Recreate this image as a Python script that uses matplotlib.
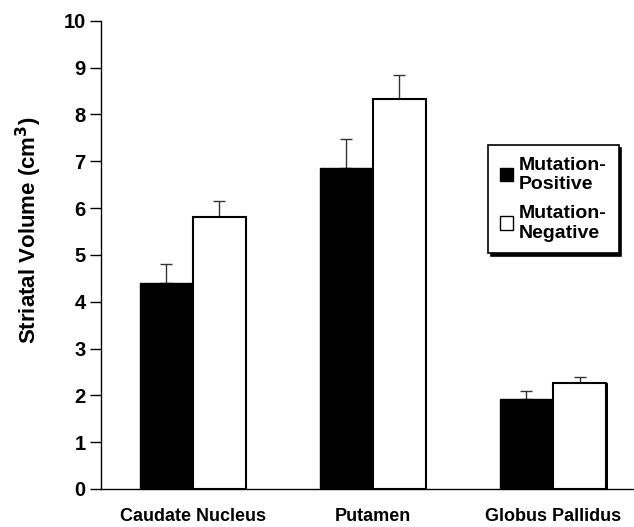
import numpy as np
import matplotlib
matplotlib.use('Agg')
import matplotlib.pyplot as plt
from matplotlib.patches import Patch

# Data
regions = ['Caudate Nucleus', 'Putamen', 'Globus Pallidus']
positive = [4.40, 6.86, 1.93]
positive_err = [0.40, 0.61, 0.16]
negative = [5.80, 8.32, 2.26]
negative_err = [0.35, 0.52, 0.14]

plt.rcParams['font.family'] = ['Liberation Sans', 'DejaVu Sans']
plt.rcParams['font.weight'] = 'bold'

fig = plt.figure(figsize=(6.34, 5.27), dpi=100)
ax = fig.add_axes([101/634, 1 - 489/527, 1 - 101/634, (489 - 20.7)/527])

x = np.arange(len(regions))
w = 0.295

# Positive bars (black)
ax.bar(x - w/2, positive, w, color='black', edgecolor='black', linewidth=1, zorder=2)
ax.errorbar(x - w/2, positive, yerr=[np.zeros(3), positive_err], fmt='none',
            ecolor='#333333', elinewidth=1, capsize=4, capthick=1, zorder=1)

# Negative bars (white with a drop shadow on the right)
ax.bar(x + w/2 + 0.008, negative, w, color='black', linewidth=0, zorder=2)
ax.bar(x + w/2, negative, w, color='white', edgecolor='black', linewidth=1.5, zorder=3)
ax.errorbar(x + w/2, negative, yerr=[np.zeros(3), negative_err], fmt='none',
            ecolor='#333333', elinewidth=1, capsize=4, capthick=1, zorder=1)

ax.set_xlim(-0.51, 2.45)
ax.set_ylim(0, 10)
ax.set_yticks(range(0, 11))
ax.set_xticks(x)
ax.set_xticklabels(regions, fontsize=13, fontweight='bold')
ax.tick_params(axis='x', length=0, pad=14)
ax.tick_params(axis='y', length=8, width=1, labelsize=14.5, direction='out', pad=3)
for lab in ax.get_yticklabels():
    lab.set_fontweight('bold')

ax.spines['top'].set_visible(False)
ax.spines['right'].set_visible(False)
ax.spines['left'].set_linewidth(1)
ax.spines['bottom'].set_linewidth(1)

ax.set_ylabel('Striatal Volume (cm$^{\\mathbf{3}}$)', fontsize=16, fontweight='bold', labelpad=14)
ax.yaxis.label.set_y(0.553)

handles = [Patch(facecolor='black', edgecolor='black', label='Mutation-\nPositive'),
           Patch(facecolor='white', edgecolor='black', label='Mutation-\nNegative')]
leg = ax.legend(handles=handles, loc='upper left',
                bbox_to_anchor=((488 - 101)/533, (489 - 145)/468.3), borderaxespad=0,
                fontsize=14, frameon=True, fancybox=False, shadow={'color': 'black', 'alpha': 1},
                edgecolor='black', handlelength=0.7, handleheight=0.7, handletextpad=0.3,
                borderpad=0.6, labelspacing=0.6)
leg.get_frame().set_linewidth(1.2)
for t in leg.get_texts():
    t.set_fontweight('bold')

fig.savefig('out.png', dpi=100)
